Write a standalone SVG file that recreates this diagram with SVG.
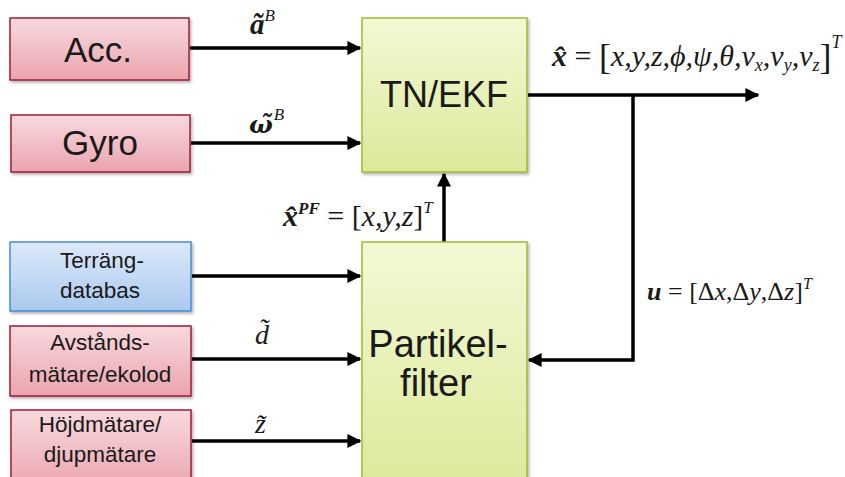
<svg xmlns="http://www.w3.org/2000/svg" width="845" height="477" viewBox="0 0 845 477">
<defs>
<linearGradient id="gRed" x1="0" y1="0" x2="0" y2="1"><stop offset="0" stop-color="#f8d9de"/><stop offset="1" stop-color="#eaa4ae"/></linearGradient>
<linearGradient id="gBlue" x1="0" y1="0" x2="0" y2="1"><stop offset="0" stop-color="#dde9fa"/><stop offset="1" stop-color="#a9c9ef"/></linearGradient>
<linearGradient id="gGreen" x1="0" y1="0" x2="0" y2="1"><stop offset="0" stop-color="#f4f8d4"/><stop offset="1" stop-color="#dbe99a"/></linearGradient>
<filter id="sh" x="-10%" y="-10%" width="130%" height="130%"><feDropShadow dx="1.5" dy="2" stdDeviation="1.5" flood-color="#000" flood-opacity="0.3"/></filter>
<marker id="ah" viewBox="0 0 10 10" refX="9" refY="5" markerWidth="4" markerHeight="4" orient="auto" markerUnits="strokeWidth"><path d="M0,0 L10,5 L0,10 z" fill="#000"/></marker>
</defs>
<style>
.red{fill:url(#gRed);stroke:#9e1d34;stroke-width:1.5;filter:url(#sh)}
.blue{fill:url(#gBlue);stroke:#4a8ccd;stroke-width:1.5;filter:url(#sh)}
.green{fill:url(#gGreen);stroke:#9cbc2c;stroke-width:1.5;filter:url(#sh)}
.t{font-family:"Liberation Sans",Arial,sans-serif;fill:#1a1a1a;text-anchor:middle}
.s{font-size:22.5px}
.m{font-family:"Liberation Serif","Times New Roman",serif;font-style:italic;fill:#1a1a1a}
.mb{font-weight:bold}
.up{font-style:normal}
.dv{font-family:"DejaVu Serif",serif}
.c{fill:none;stroke:#000;stroke-width:3.5}
</style>
<g id="connectors">
<line class="c" x1="190" y1="48" x2="360" y2="48" marker-end="url(#ah)"/>
<line class="c" x1="191" y1="143" x2="360" y2="143" marker-end="url(#ah)"/>
<line class="c" x1="444" y1="242" x2="444" y2="174" marker-end="url(#ah)"/>
<line class="c" x1="528" y1="95" x2="758" y2="95" marker-end="url(#ah)"/>
<polyline class="c" points="633,95 633,360 529,360" marker-end="url(#ah)"/>
<line class="c" x1="192" y1="276" x2="360" y2="276" marker-end="url(#ah)"/>
<line class="c" x1="192" y1="359" x2="360" y2="359" marker-end="url(#ah)"/>
<line class="c" x1="192" y1="441" x2="360" y2="441" marker-end="url(#ah)"/>
</g>
<g id="acc"><rect class="red" x="10" y="18" width="179" height="62"/><text class="t" x="98" y="62" font-size="35">Acc.</text></g>
<g id="gyro"><rect class="red" x="11" y="115" width="179" height="57"/><text class="t" x="100" y="155" font-size="35">Gyro</text></g>
<g id="tnekf"><rect class="green" x="362" y="18" width="165" height="154"/><text class="t" x="444" y="107" font-size="36">TN/EKF</text></g>
<g id="terrang"><rect class="blue" x="10" y="242" width="181" height="69"/><text class="t s" x="102" y="268">Terräng-</text><text class="t s" x="100" y="298">databas</text></g>
<g id="avstand"><rect class="red" x="10" y="326" width="181" height="70"/><text class="t s" x="100" y="350">Avstånds-</text><text class="t s" x="100" y="382">mätare/ekolod</text></g>
<g id="hojd"><rect class="red" x="11" y="410" width="180" height="80"/><text class="t s" x="100" y="432">Höjdmätare/</text><text class="t s" x="100" y="462">djupmätare</text></g>
<g id="partikel"><rect class="green" x="362" y="242" width="165" height="250"/><text class="t" x="438" y="357" font-size="38">Partikel-</text><text class="t" x="436" y="396" font-size="38">filter</text></g>
<g id="labels">
<text class="m" x="250" y="34" font-size="29"><tspan class="mb">ã</tspan><tspan font-size="17" dy="-13">B</tspan></text>
<text class="m" x="249" y="133" font-size="29"><tspan class="mb dv" font-size="25">ω̃</tspan><tspan font-size="17" dy="-13" dx="1">B</tspan></text>
<text class="m" x="283" y="226" font-size="30"><tspan class="mb">x̂</tspan><tspan class="mb" font-size="17" dy="-12">PF</tspan><tspan class="up" dy="12"> = [</tspan>x,y,z<tspan class="up">]</tspan><tspan font-size="17" dy="-13">T</tspan></text>
<text class="m" x="552" y="66" font-size="30"><tspan class="mb">x̂</tspan><tspan class="up"> = </tspan><tspan class="up" font-size="36" dy="3">[</tspan><tspan dy="-3">x,y,z,ϕ,ψ,θ,v</tspan><tspan font-size="18" dy="5">x</tspan><tspan dy="-5">,v</tspan><tspan font-size="18" dy="5">y</tspan><tspan dy="-5">,v</tspan><tspan font-size="18" dy="5">z</tspan><tspan class="up" font-size="36" dy="-2">]</tspan><tspan font-size="18" dy="-21">T</tspan></text>
<text class="m" x="647" y="300" font-size="26"><tspan class="mb">u</tspan><tspan class="up"> = [Δ</tspan>x<tspan class="up">,Δ</tspan>y<tspan class="up">,Δ</tspan>z<tspan class="up">]</tspan><tspan font-size="16" dy="-11">T</tspan></text>
<text class="m" x="255" y="344" font-size="28">d̃</text>
<text class="m" x="255" y="433" font-size="28">z̃</text>
</g>
</svg>
